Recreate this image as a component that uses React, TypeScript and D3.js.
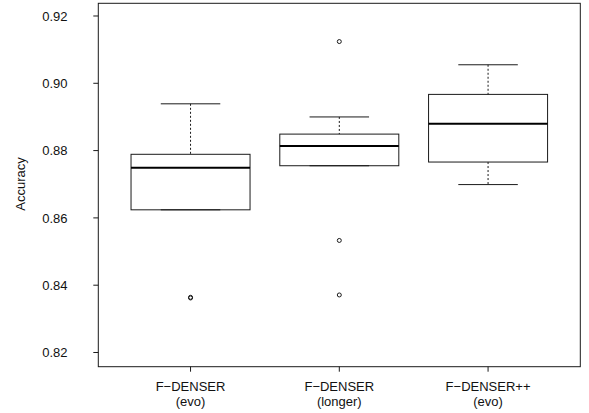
import React from "react";
import * as d3 from "d3";

// box statistics
const labelTop = ["F\u2212DENSER", "F\u2212DENSER", "F\u2212DENSER++"];
const labelBottom = ["(evo)", "(longer)", "(evo)"];
const whiskerLow = [0.8624, 0.8755, 0.8699];
const q1 = [0.8624, 0.8755, 0.8766];
const median = [0.8749, 0.8814, 0.888];
const q3 = [0.8789, 0.8849, 0.8967];
const whiskerHigh = [0.8939, 0.89, 0.9055];
const outliers = [[0.8362, 0.8364], [0.9124, 0.8533, 0.8371], []];
const yTicks = [0.82, 0.84, 0.86, 0.88, 0.9, 0.92];

const W = 589;
const H = 413;
const font = "'Liberation Sans', Arial, Helvetica, sans-serif";

const App = () => {
  const x = d3.scaleLinear().domain([0.38, 3.62]).range([98.3, 580.3]);
  const y = d3.scaleLinear().domain([0.81578, 0.92377]).range([366.7, 3.3]);
  const left = x.range()[0];
  const right = x.range()[1];
  const top = y.range()[1];
  const bottom = y.range()[0];
  const stroke = "#1a1a1a";

  return (
    <div style={{ position: "fixed", left: 0, top: 0 }}>
      <svg width={W} height={H} style={{ display: "block", background: "#fff" }}>
        <g fontFamily={font} fontSize={13} fill="#111">
          {/* boxes */}
          {median.map((m, i) => {
            const c = x(i + 1);
            const bw = x(1.4) - x(1);
            const sw = x(1.2) - x(1);
            return (
              <g key={i} stroke={stroke} fill="none" strokeWidth={1}>
                <line x1={c} x2={c} y1={y(whiskerHigh[i])} y2={y(q3[i])} strokeDasharray="2,2" />
                <line x1={c} x2={c} y1={y(q1[i])} y2={y(whiskerLow[i])} strokeDasharray="2,2" />
                <line x1={c - sw} x2={c + sw} y1={y(whiskerHigh[i])} y2={y(whiskerHigh[i])} />
                <line x1={c - sw} x2={c + sw} y1={y(whiskerLow[i])} y2={y(whiskerLow[i])} />
                <rect x={c - bw} y={y(q3[i])} width={2 * bw} height={y(q1[i]) - y(q3[i])} />
                <line x1={c - bw} x2={c + bw} y1={y(m)} y2={y(m)} strokeWidth={2} stroke="#000" />
                {outliers[i].map((o, j) => (
                  <circle key={j} cx={c} cy={y(o)} r={2} />
                ))}
              </g>
            );
          })}

          {/* frame */}
          <rect x={left} y={top} width={right - left} height={bottom - top} fill="none" stroke={stroke} />

          {/* y axis */}
          {yTicks.map((t) => (
            <g key={t}>
              <line x1={left - 5} x2={left} y1={y(t)} y2={y(t)} stroke={stroke} />
              <text x={67.5} y={y(t)} dy="0.36em" textAnchor="end">
                {t.toFixed(2)}
              </text>
            </g>
          ))}
          <text transform={`translate(25,184) rotate(-90)`} textAnchor="middle">
            Accuracy
          </text>

          {/* x axis */}
          {labelTop.map((l, i) => (
            <g key={i}>
              <line x1={x(i + 1)} x2={x(i + 1)} y1={bottom} y2={bottom + 5} stroke={stroke} />
              <text x={x(i + 1)} y={390.5} textAnchor="middle">
                {l}
              </text>
              <text x={x(i + 1)} y={406} textAnchor="middle">
                {labelBottom[i]}
              </text>
            </g>
          ))}
        </g>
      </svg>
    </div>
  );
};

export default App;
